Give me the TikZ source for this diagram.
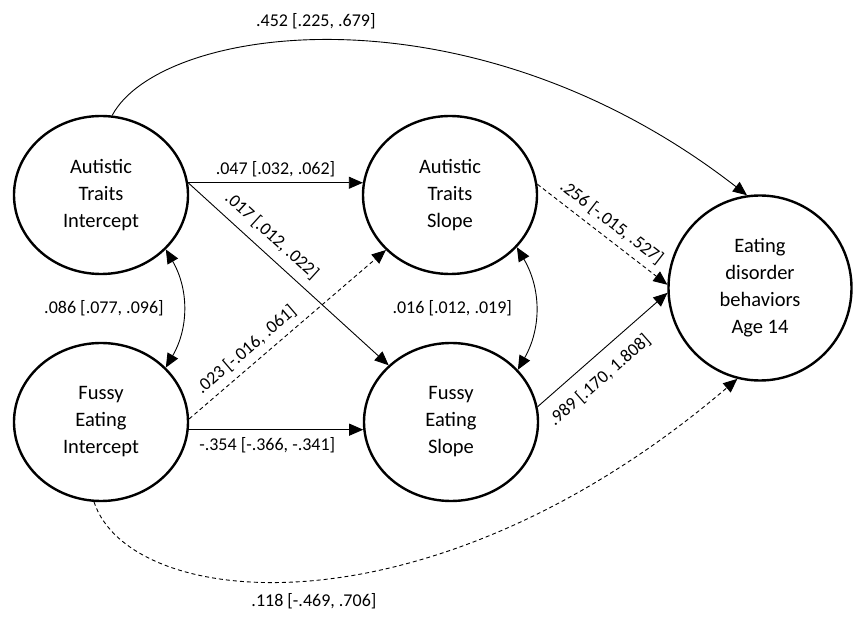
\documentclass[tikz,border=0pt]{standalone}
\usepackage{fontspec}
\setmainfont{Carlito}
\usetikzlibrary{shapes.geometric,arrows.meta}
\tikzset{
    latent/.style={ellipse, draw, line width=2.4pt, minimum width=174pt, minimum height=158pt,
        inner sep=0pt, align=center, font=\fontsize{20.5}{27}\selectfont},
    regpath/.style={-{Triangle[length=14pt,width=12pt]}, line width=0.9pt},
    covpath/.style={{Triangle[length=14pt,width=12pt]}-{Triangle[length=14pt,width=12pt]}, line width=0.9pt},
    nonsig/.style={dash pattern=on 4pt off 3pt},
    est/.style={font=\fontsize{18}{21}\selectfont, inner sep=1pt}
}
\begin{document}
\begin{tikzpicture}[x=1pt,y=1pt]
    \useasboundingbox (0,0) rectangle (854,616);
    % growth factors and outcome
    \node[latent] (ati) at (101,421) {Autistic\\Traits\\Intercept};
    \node[latent] (ats) at (450,421) {Autistic\\Traits\\Slope};
    \node[latent] (fei) at (101,194) {Fussy\\Eating\\Intercept};
    \node[latent] (fes) at (451,194) {Fussy\\Eating\\Slope};
    \node[latent, minimum width=183pt, minimum height=185pt] (ed) at (760,328) {Eating\\disorder\\behaviors\\Age 14};
    % regressions
    \draw[regpath] (ati.8) -- (ats.172) node[est, midway, above=4pt] {.047 [.032, .062]};
    \draw[regpath] (ati.8) -- (fes) node[est, pos=0.36, above=8pt, sloped] {.017 [.012, .022]};
    \draw[regpath, nonsig] (fei.2) -- (ats) node[est, pos=0.34, above=6pt, sloped] {.023 [-.016, .061]};
    \draw[regpath] (fei.-5) -- (fes.185) node[est, pos=0.45, below=6pt] {-.354 [-.366, -.341]};
    \draw[regpath, nonsig] (ats.7) -- (ed.178) node[est, pos=0.5, above=6pt, sloped] {.256 [-.015, .527]};
    \draw[regpath] (fes.10) -- (ed.183) node[est, pos=0.37, below=12pt, sloped] {.989 [.170, 1.808]};
    \draw[regpath] (ati.82) .. controls (160,591) and (470,636) .. (ed.98)
        node[est, pos=0.46, above=10pt] {.452 [.225, .679]};
    \draw[regpath, nonsig] (fei.265) .. controls (130,5) and (430,-25) .. (ed.256)
        node[est, pos=0.5, below=12pt] {.118 [-.469, .706]};
    % covariances
    \draw[covpath] (ati.-40) to[bend left=30] node[est, left=18pt] {.086 [.077, .096]} (fei.40);
    \draw[covpath] (ats.-38) to[bend left=30] node[est, left=22pt] {.016 [.012, .019]} (fes.38);
\end{tikzpicture}
\end{document}
